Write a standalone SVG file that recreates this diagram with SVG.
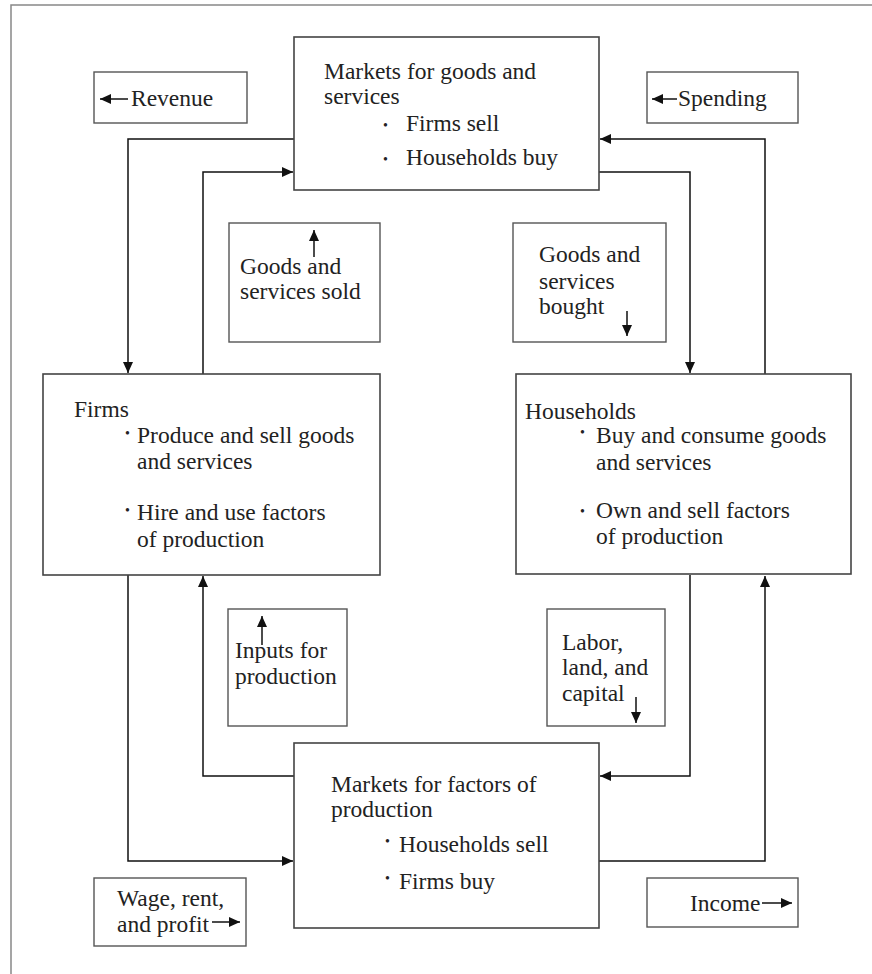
<svg xmlns="http://www.w3.org/2000/svg" width="872" height="974" viewBox="0 0 872 974">
<style>
  .box { fill: #fff; stroke: #444; stroke-width: 1.6; }
  .lbl { fill: #fff; stroke: #555; stroke-width: 1.4; }
  .t { font-family: "Liberation Serif", "Times New Roman", serif; font-size: 23.5px; fill: #222; }
  .b { font-family: "Liberation Serif", "Times New Roman", serif; font-size: 14px; fill: #222; }
  .c { fill: none; stroke: #111; stroke-width: 1.5; }
  .s { fill: none; stroke: #111; stroke-width: 1.5; }
</style>
<defs>
  <marker id="ah" markerWidth="12" markerHeight="10" refX="11" refY="5" orient="auto" markerUnits="userSpaceOnUse">
    <path d="M0,0 L11,5 L0,10 Z" fill="#111"/>
  </marker>
</defs>
<rect x="0" y="0" width="872" height="974" fill="#fff"/>
<path d="M11,974 V5 H872" fill="none" stroke="#888" stroke-width="1.5"/>

<g id="connectors">
  <path class="c" d="M294,139 H128 V373" marker-end="url(#ah)"/>
  <path class="c" d="M203,374 V172 H293" marker-end="url(#ah)"/>
  <path class="c" d="M599,172 H690 V373" marker-end="url(#ah)"/>
  <path class="c" d="M765,374 V139 H600" marker-end="url(#ah)"/>
  <path class="c" d="M599,861 H765 V576" marker-end="url(#ah)"/>
  <path class="c" d="M690,575 V776 H600" marker-end="url(#ah)"/>
  <path class="c" d="M294,776 H203 V576" marker-end="url(#ah)"/>
  <path class="c" d="M128,575 V861 H293" marker-end="url(#ah)"/>
</g>

<g id="goods-market">
  <rect class="box" x="294" y="37" width="305" height="153"/>
  <text class="t" x="324" y="79">Markets for goods and</text>
  <text class="t" x="324" y="104">services</text>
  <text class="b" x="383" y="130">•</text>
  <text class="t" x="406" y="131">Firms sell</text>
  <text class="b" x="383" y="164">•</text>
  <text class="t" x="406" y="165">Households buy</text>
</g>

<g id="factor-market">
  <rect class="box" x="294" y="743" width="305" height="185"/>
  <text class="t" x="331" y="792">Markets for factors of</text>
  <text class="t" x="331" y="817">production</text>
  <text class="b" x="385" y="846">•</text>
  <text class="t" x="399" y="852">Households sell</text>
  <text class="b" x="385" y="883">•</text>
  <text class="t" x="399" y="889">Firms buy</text>
</g>

<g id="firms">
  <rect class="box" x="43" y="374" width="337" height="201"/>
  <text class="t" x="74" y="417">Firms</text>
  <text class="b" x="125" y="438">•</text>
  <text class="t" x="137" y="443">Produce and sell goods</text>
  <text class="t" x="137" y="469">and services</text>
  <text class="b" x="125" y="515">•</text>
  <text class="t" x="137" y="520">Hire and use factors</text>
  <text class="t" x="137" y="547">of production</text>
</g>

<g id="households">
  <rect class="box" x="516" y="374" width="335" height="200"/>
  <text class="t" x="525" y="419">Households</text>
  <text class="b" x="580" y="437">•</text>
  <text class="t" x="596" y="443">Buy and consume goods</text>
  <text class="t" x="596" y="470">and services</text>
  <text class="b" x="580" y="516">•</text>
  <text class="t" x="596" y="518">Own and sell factors</text>
  <text class="t" x="596" y="544">of production</text>
</g>

<g id="revenue">
  <rect class="lbl" x="94" y="72" width="153" height="51"/>
  <line class="s" x1="128" y1="99" x2="100" y2="99" marker-end="url(#ah)"/>
  <text class="t" x="131" y="106">Revenue</text>
</g>

<g id="spending">
  <rect class="lbl" x="647" y="72" width="151" height="51"/>
  <line class="s" x1="677" y1="99" x2="652" y2="99" marker-end="url(#ah)"/>
  <text class="t" x="678" y="106">Spending</text>
</g>

<g id="goods-sold">
  <rect class="lbl" x="229" y="223" width="151" height="119"/>
  <line class="s" x1="314" y1="257" x2="314" y2="230" marker-end="url(#ah)"/>
  <text class="t" x="240" y="274">Goods and</text>
  <text class="t" x="240" y="299">services sold</text>
</g>

<g id="goods-bought">
  <rect class="lbl" x="513" y="223" width="153" height="119"/>
  <text class="t" x="539" y="262">Goods and</text>
  <text class="t" x="539" y="289">services</text>
  <text class="t" x="539" y="314">bought</text>
  <line class="s" x1="627" y1="311" x2="627" y2="336" marker-end="url(#ah)"/>
</g>

<g id="inputs">
  <rect class="lbl" x="228" y="609" width="119" height="117"/>
  <line class="s" x1="262" y1="645" x2="262" y2="616" marker-end="url(#ah)"/>
  <text class="t" x="235" y="658">Inputs for</text>
  <text class="t" x="235" y="684">production</text>
</g>

<g id="labor">
  <rect class="lbl" x="547" y="609" width="118" height="117"/>
  <text class="t" x="562" y="650">Labor,</text>
  <text class="t" x="562" y="675">land, and</text>
  <text class="t" x="562" y="701">capital</text>
  <line class="s" x1="636" y1="697" x2="636" y2="723" marker-end="url(#ah)"/>
</g>

<g id="wage">
  <rect class="lbl" x="94" y="878" width="152" height="68"/>
  <text class="t" x="117" y="906">Wage, rent,</text>
  <text class="t" x="117" y="932">and profit</text>
  <line class="s" x1="212" y1="922" x2="240" y2="922" marker-end="url(#ah)"/>
</g>

<g id="income">
  <rect class="lbl" x="647" y="878" width="151" height="49"/>
  <text class="t" x="690" y="911">Income</text>
  <line class="s" x1="762" y1="903" x2="792" y2="903" marker-end="url(#ah)"/>
</g>
</svg>
